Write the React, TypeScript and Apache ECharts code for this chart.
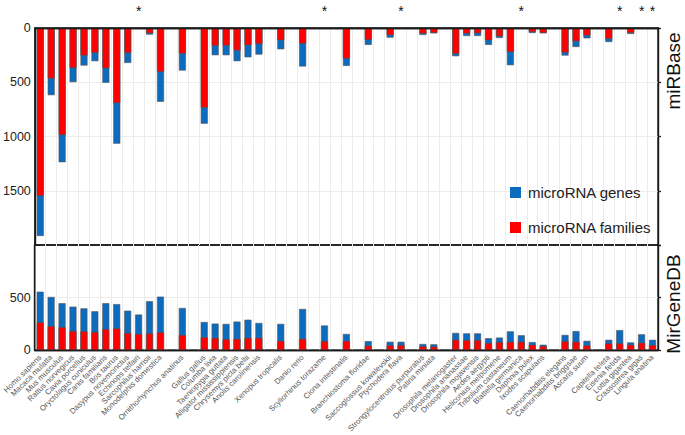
import React, { useEffect, useRef } from "react";
import * as echarts from "echarts";

const species = [
  "Homo sapiens", "Macaca mulatta", "Mus musculus", "Rattus norvegicus", "Cavia porcellus",
  "Oryctolagus cuniculus", "Canis familiaris", "Bos taurus", "Dasypus novemcinctus", "Echinops telfairi",
  "Sarcophilus harrisii", "Monodelphis domestica", "", "Ornithorhynchus anatinus", "",
  "Gallus gallus", "Columba livia", "Taeniopygia guttata", "Alligator mississippiensis", "Chrysemys picta bellii",
  "Anolis carolinensis", "", "Xenopus tropicalis", "", "Danio rerio",
  "", "Scyliorhinus torazame", "", "Ciona intestinalis", "",
  "Branchiostoma floridae", "", "Saccoglossus kowalevskii", "Ptychodera flava", "",
  "Strongylocentrotus purpuratus", "Patiria miniata", "", "Drosophila melanogaster", "Drosophila ananassae",
  "Drosophila mojavensis", "Aedes aegypti", "Heliconius melpomene", "Tribolium castaneum", "Blattella germanica",
  "Daphnia pulex", "Ixodes scapularis", "", "Caenorhabditis elegans", "Caenorhabditis briggsae",
  "Ascaris suum", "", "Capitella teleta", "Eisenia fetida", "Lottia gigantea",
  "Crassostrea gigas", "Lingula anatina",
];

const notInMirbase = [
  "Echinops telfairi", "Scyliorhinus torazame", "Ptychodera flava", "Blattella germanica",
  "Eisenia fetida", "Crassostrea gigas", "Lingula anatina",
];

const mirbaseGenes = [
  1917, 619, 1237, 499, 346, 306, 505, 1066, 322, null,
  61, 680, null, 392, null, 882, 251, 251, 306, 270,
  245, null, 196, null, 355, null, null, null, 349, null,
  156, null, 89, null, null, 64, 49, null, 260, 74,
  74, 156, 92, 343, null, 46, 49, null, 254, 175,
  95, null, 129, null, 55, null, null,
];

const mirbaseFamilies = [
  1547, 466, 986, 368, 254, 230, 371, 692, 230, null,
  49, 404, null, 236, null, 735, 165, 162, 208, 159,
  147, null, 113, null, 144, null, null, null, 282, null,
  110, null, 67, null, null, 52, 46, null, 239, 52,
  49, 113, 77, 221, null, 37, 46, null, 227, 123,
  70, null, 101, null, 46, null, null,
];

const mirgenedbGenes = [
  556, 506, 447, 414, 398, 370, 447, 438, 376, 339,
  466, 509, null, 401, null, 268, 253, 250, 272, 290,
  259, null, 250, null, 392, null, 235, null, 154, null,
  86, null, 80, 80, null, 59, 56, null, 164, 160,
  160, 114, 120, 179, 142, 77, 52, null, 145, 182,
  89, null, 99, 191, 74, 151, 99,
];

const mirgenedbFamilies = [
  265, 228, 219, 182, 179, 173, 201, 207, 164, 154,
  160, 170, null, 145, null, 123, 117, 105, 108, 117,
  117, null, 89, null, 108, null, 86, null, 89, null,
  43, null, 46, 49, null, 37, 34, null, 99, 96,
  96, 68, 77, 80, 80, 52, 40, null, 86, 80,
  46, null, 65, 65, 52, 71, 49,
];

const BLUE = "#0b6bbf";
const RED = "#ff0000";
const FONT = "'Liberation Sans', Arial, sans-serif";

export default function App() {
  const ref = useRef<HTMLDivElement>(null);
  useEffect(() => {
    document.body.style.margin = "0";
    const chart = echarts.init(ref.current!, null, { renderer: "svg" });
    const grid = (top: number, height: number) => ({
      left: 34, right: 27, top, height, show: true,
      borderColor: "#1a1a1a", borderWidth: 1.4, backgroundColor: "transparent",
    });
    const split = { show: true, lineStyle: { color: "#ececec", width: 1 } };
    const ySplit = { show: true, showMinLine: false, showMaxLine: false, lineStyle: { color: "#ececec", width: 1 } };
    const barBase = {
      type: "bar", barWidth: 7, barGap: "-100%",
    };
    const blueStyle = { color: BLUE, borderColor: "#555", borderWidth: 0.6 };
    const redStyle = { color: RED, borderColor: "#555", borderWidth: 0.6 };
    const axisLine = { show: true, lineStyle: { color: "#1a1a1a", width: 1.4 } };
    const frameAxis = (gridIndex: number, position: string) => ({
      gridIndex, type: "category", position, data: species, z: 5,
      axisLine, axisTick: { show: false }, axisLabel: { show: false }, splitLine: { show: false },
    });
    chart.setOption({
      animation: false,
      textStyle: { fontFamily: FONT },
      grid: [grid(28, 217), grid(245, 110)],
      xAxis: [
        {
          gridIndex: 0, type: "category", position: "top", data: species,
          axisLine, axisTick: { show: false },
          axisLabel: {
            interval: 0, margin: 10, fontSize: 14, color: "#111", fontFamily: FONT,
            formatter: (v: string) => (notInMirbase.includes(v) ? "*" : ""),
          },
          splitLine: split,
        },
        {
          gridIndex: 1, type: "category", position: "bottom", data: species,
          axisLine, axisTick: { show: false },
          axisLabel: {
            interval: 0, rotate: 45, margin: 6, fontSize: 7.8, color: "#555", fontFamily: FONT,
          },
          splitLine: split,
        },
        frameAxis(0, "bottom"),
        frameAxis(1, "top"),
      ],
      yAxis: [
        {
          gridIndex: 0, type: "value", inverse: true, min: 0, max: 2000, interval: 500,
          axisLine, axisTick: { show: false },
          axisLabel: {
            fontSize: 12.5, color: "#222", margin: 4, fontFamily: FONT,
            formatter: (v: number) => (v === 2000 ? "" : String(v)),
          },
          splitLine: ySplit,
        },
        {
          gridIndex: 1, type: "value", min: 0, max: 1000, interval: 500,
          axisLine, axisTick: { show: false },
          axisLabel: {
            fontSize: 12.5, color: "#222", margin: 4, fontFamily: FONT,
            formatter: (v: number) => (v === 1000 ? "" : String(v)),
          },
          splitLine: ySplit,
        },
        {
          gridIndex: 0, type: "value", position: "right", inverse: true, min: 0, max: 2000, interval: 500,
          axisLine, axisTick: { show: true, length: 3, lineStyle: { color: "#1a1a1a", width: 1.3 } },
          axisLabel: { show: false }, splitLine: { show: false },
        },
        {
          gridIndex: 1, type: "value", position: "right", min: 0, max: 1000, interval: 500,
          axisLine, axisTick: { show: true, length: 3, lineStyle: { color: "#1a1a1a", width: 1.3 } },
          axisLabel: { show: false }, splitLine: { show: false },
        },
      ],
      legend: {
        data: ["microRNA genes", "microRNA families"],
        orient: "vertical", left: 505, top: 180,
        itemWidth: 11, itemHeight: 11, itemGap: 20,
        icon: "rect",
        itemStyle: { borderWidth: 0 },
        textStyle: { fontSize: 15, color: "#222", fontFamily: FONT, padding: [0, 0, 0, 2] },
      },
      series: [
        { ...barBase, name: "microRNA genes", xAxisIndex: 0, yAxisIndex: 0, data: mirbaseGenes, itemStyle: blueStyle },
        { ...barBase, name: "microRNA families", xAxisIndex: 0, yAxisIndex: 0, data: mirbaseFamilies, itemStyle: redStyle },
        { ...barBase, name: "microRNA genes", xAxisIndex: 1, yAxisIndex: 1, data: mirgenedbGenes, itemStyle: blueStyle },
        { ...barBase, name: "microRNA families", xAxisIndex: 1, yAxisIndex: 1, data: mirgenedbFamilies, itemStyle: redStyle },
      ],
      graphic: [
        {
          type: "text", x: 673, y: 71, rotation: Math.PI / 2,
          style: { text: "miRBase", fontSize: 19, fontFamily: FONT, fill: "#111", align: "center", verticalAlign: "middle" },
        },
        {
          type: "text", x: 673, y: 304, rotation: Math.PI / 2,
          style: { text: "MirGeneDB", fontSize: 19, fontFamily: FONT, fill: "#111", align: "center", verticalAlign: "middle" },
        },
      ],
    });
    return () => chart.dispose();
  }, []);
  return <div ref={ref} style={{ width: 685, height: 435 }} />;
}
